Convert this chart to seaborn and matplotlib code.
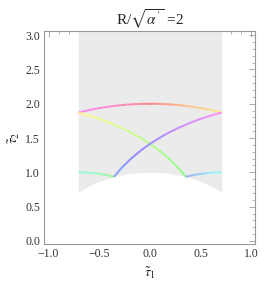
import numpy as np
import seaborn as sns
import matplotlib
matplotlib.use("Agg")
import matplotlib.pyplot as plt
from matplotlib.collections import LineCollection
from matplotlib.colors import hsv_to_rgb

# fundamental domain: |tau1| <= 1/sqrt(2), |tau| >= 1
half_width = 0.7071
domain_top = 3.2

# arcs: (circle centre on real axis, radius, tau1 start, tau1 end, hue start, hue end)
arc_centres = [0.0, -1.4142, -0.7071, 0.7071, 1.4142]
arc_radii = [2.0, 2.0, 1.0, 1.0, 2.0]
arc_x0 = [-0.7071, -0.7071, -0.3536, 0.7071, -0.3536]
arc_x1 = [0.7071, 0.3536, -0.7071, 0.3536, 0.7071]
arc_h0 = [0.84, 0.15, 0.33, 0.48, 0.63]
arc_h1 = [1.15, 0.33, 0.48, 0.63, 0.84]

x_ticks = [-1.0, -0.5, 0.0, 0.5, 1.0]
y_ticks = [0.0, 0.5, 1.0, 1.5, 2.0, 2.5, 3.0]

sns.set_theme(style="white")
plt.rcParams['font.family'] = ['Liberation Serif', 'DejaVu Serif']
plt.rcParams['mathtext.fontset'] = 'stix'

fig = plt.figure(figsize=(2.66, 2.92), dpi=100)
ax = fig.add_axes([0.1665, 0.1644, 0.9586 - 0.1665, 0.8938 - 0.1644])

xs = np.linspace(-half_width, half_width, 200)
ax.fill_between(xs, np.sqrt(1 - xs**2), domain_top, color="#ebebeb", lw=0)

for c, r, x0, x1, h0, h1 in zip(arc_centres, arc_radii, arc_x0, arc_x1, arc_h0, arc_h1):
    t = np.linspace(0, 1, 120)
    xx = x0 + (x1 - x0) * t
    yy = np.sqrt(np.clip(r**2 - (xx - c)**2, 0, None))
    pts = np.column_stack([xx, yy]).reshape(-1, 1, 2)
    segs = np.concatenate([pts[:-1], pts[1:]], axis=1)
    hues = (h0 + (h1 - h0) * t[:-1]) % 1.0
    cols = hsv_to_rgb(np.column_stack([hues, np.full_like(hues, 0.5), np.ones_like(hues)]))
    ax.add_collection(LineCollection(segs, colors=cols, linewidths=1.4))

ax.set_xlim(-1.042, 1.035)
ax.set_ylim(-0.044, 3.06)
ax.set_xticks(x_ticks)
ax.set_yticks(y_ticks)
ax.set_xticklabels([f"{v:.1f}".replace("-", "\u2212") for v in x_ticks])
ax.set_yticklabels([f"{v:.1f}" for v in y_ticks])
ax.set_xticks(np.arange(-1.0, 1.01, 0.1), minor=True)
ax.set_yticks(np.arange(0.0, 3.01, 0.1), minor=True)
ax.tick_params(which="both", direction="in", top=True, right=True, color="#999999",
               labelsize=8.5, labelcolor="#333333", pad=3)
ax.tick_params(which="major", length=4, width=0.6)
ax.tick_params(which="minor", length=2, width=0.5)
for s in ax.spines.values():
    s.set_color("#999999")
    s.set_linewidth(0.8)

ax.set_xlabel(r"$\tilde{\tau}_1$", fontsize=10, labelpad=4)
ax.set_ylabel(r"$\tilde{\tau}_2$", fontsize=10, labelpad=2)
ax.set_title(r"R/$\sqrt{\alpha\,'}$ =2", fontsize=11, pad=4)

fig.savefig("out.png", dpi=100)
